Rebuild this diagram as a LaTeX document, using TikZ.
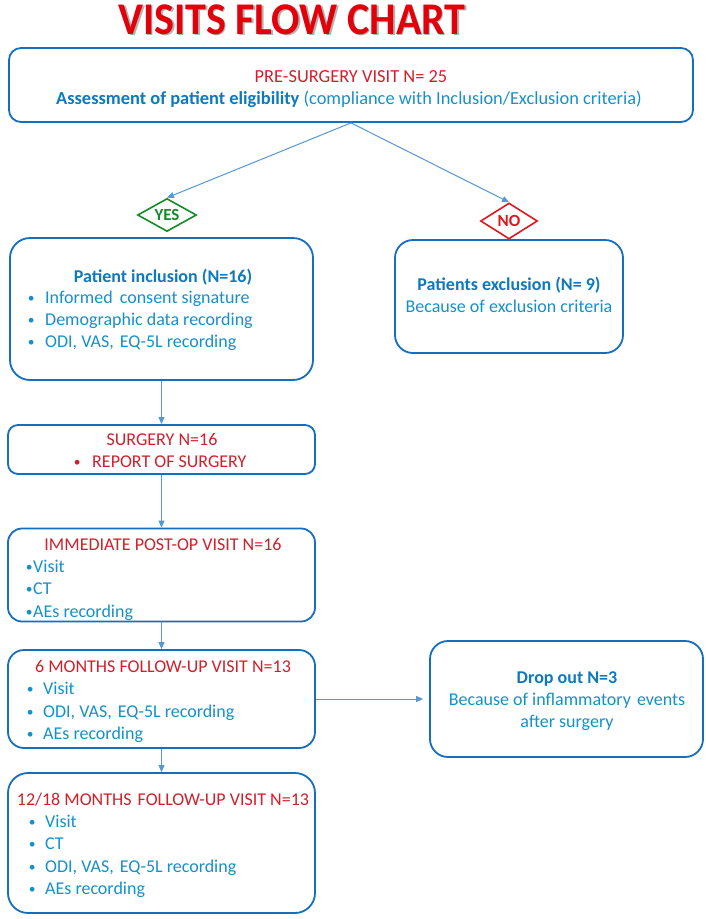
\documentclass[tikz,border=0pt]{standalone}
\usepackage{fontspec}
\setmainfont{Carlito}
\usetikzlibrary{shapes.geometric,arrows.meta}
\definecolor{boxblue}{RGB}{22,110,190}
\definecolor{txtblue}{RGB}{22,145,200}
\definecolor{bldblue}{RGB}{12,122,188}
\definecolor{hdred}{RGB}{208,32,44}
\definecolor{ttlred}{RGB}{226,0,10}
\definecolor{arrblue}{RGB}{86,152,212}
\definecolor{yesgreen}{RGB}{20,140,40}
\definecolor{nored}{RGB}{220,24,32}
\newcommand{\myb}[2][13pt]{\makebox[0pt][c]{\raisebox{1pt}{\scalebox{0.75}{\textbullet}}}\hspace{#1}#2}
\begin{document}
\begin{tikzpicture}[x=1pt,y=-1pt,
  box/.style={draw=boxblue, line width=1.8pt, rectangle, inner sep=0pt},
  txt/.style={anchor=base, inner sep=0pt, font=\fontsize{18}{22}\selectfont, text=txtblue},
  ltxt/.style={txt, anchor=base west},
  bld/.style={txt, font=\fontsize{18}{22}\selectfont\bfseries, text=bldblue},
  hd/.style={txt, text=hdred},
  arr/.style={draw=arrblue, line width=1pt, -{Triangle[length=7pt,width=6pt]}},
  dia/.style={diamond, aspect=1.8, line width=1.6pt, inner sep=0pt, font=\fontsize{17}{17}\selectfont\bfseries},
  ttl/.style={anchor=base, inner sep=0pt, font=\fontsize{42}{44}\selectfont\bfseries}
]
\useasboundingbox (0,0) rectangle (706,919);
\fill[white] (0,0) rectangle (706,919);

% title
\node[ttl, text=black!30] (titleshadow) at (293.5,35.5) {\scalebox{1}[1.08]{VISITS FLOW CHART}};
\node[ttl, text=ttlred] (title) at (292,34) {\scalebox{1}[1.08]{VISITS FLOW CHART}};

% boxes
\node[box, rounded corners=12pt, minimum width=684pt, minimum height=74pt] (top) at (351,85) {};
\node[box, rounded corners=20pt, minimum width=303pt, minimum height=142pt] (incl) at (161.5,309) {};
\node[box, rounded corners=18pt, minimum width=228pt, minimum height=113pt] (excl) at (509,296.5) {};
\node[box, rounded corners=10pt, minimum width=307pt, minimum height=49pt] (surg) at (161.5,449.5) {};
\node[box, rounded corners=14pt, minimum width=307pt, minimum height=93pt] (imm) at (161.5,575) {};
\node[box, rounded corners=16pt, minimum width=307pt, minimum height=98pt] (six) at (161.5,699) {};
\node[box, rounded corners=20pt, minimum width=307pt, minimum height=140pt] (twelve) at (161.5,843) {};
\node[box, rounded corners=18pt, minimum width=273pt, minimum height=116pt] (drop) at (566.5,699) {};

% diamonds
\node[dia, draw=yesgreen, text=yesgreen, minimum width=59pt, minimum height=33pt] (yes) at (167,215) {YES};
\node[dia, draw=nored, text=nored, minimum width=57pt, minimum height=36pt] (no) at (509,221) {NO};

% top box text
\node[hd, font=\fontsize{18.4}{22}\selectfont] (t1) at (351,82) {PRE-SURGERY VISIT N= 25};
\node[txt, font=\fontsize{18.4}{22}\selectfont] (t2) at (349,104) {\textcolor{bldblue}{\bfseries Assessment of patient eligibility} (compliance with Inclusion/Exclusion criteria)};

% inclusion
\node[bld] (i0) at (163,282) {Patient inclusion (N=16)};
\node[ltxt] (i1) at (31,303) {\myb[14pt]{Informed\hspace{3pt} consent signature}};
\node[ltxt] (i2) at (31,325) {\myb[14pt]{Demographic data recording}};
\node[ltxt] (i3) at (31,347) {\myb[14pt]{ODI, VAS,\hspace{2pt} EQ-5L recording}};

% exclusion
\node[bld] (e0) at (509,290) {Patients exclusion (N= 9)};
\node[txt] (e1) at (509,312) {Because of exclusion criteria};

% surgery
\node[hd] (s0) at (162,445) {SURGERY N=16};
\node[hd, anchor=base west] (s1) at (77,467) {\myb[15pt]{REPORT OF SURGERY}};

% immediate
\node[hd] (m0) at (163,550) {IMMEDIATE POST-OP VISIT N=16};
\node[ltxt] (m1) at (29,572) {\myb[4pt]{Visit}};
\node[ltxt] (m2) at (29,594) {\myb[4pt]{CT}};
\node[ltxt] (m3) at (29,617) {\myb[4pt]{AEs recording}};

% six months
\node[hd] (x0) at (163,672) {6 MONTHS FOLLOW-UP VISIT N=13};
\node[ltxt] (x1) at (30,694) {\myb{Visit}};
\node[ltxt] (x2) at (30,717) {\myb{ODI, VAS,\hspace{2pt} EQ-5L recording}};
\node[ltxt] (x3) at (30,739) {\myb{AEs recording}};

% twelve months
\node[hd] (w0) at (163,805) {12/18 MONTHS\hspace{2pt} FOLLOW-UP VISIT N=13};
\node[ltxt] (w1) at (32,827) {\myb{Visit}};
\node[ltxt] (w2) at (32,849) {\myb{CT}};
\node[ltxt] (w3) at (32,872) {\myb{ODI, VAS,\hspace{2pt} EQ-5L recording}};
\node[ltxt] (w4) at (32,894) {\myb{AEs recording}};

% drop out
\node[bld] (d0) at (567,683) {Drop out N=3};
\node[txt] (d1) at (567,705) {Because of inflammatory\hspace{2pt} events};
\node[txt] (d2) at (567,727) {after surgery};

% connectors
\draw[arr] (top.south) -- (yes.north);
\draw[arr] (top.south) -- (no.north);
\draw[arr] (incl.south) -- (surg.north);
\draw[arr] (surg.south) -- (imm.north);
\draw[arr] (imm.south) -- (six.north);
\draw[arr] (six.south) -- (twelve.north);
\draw[arr, shorten >=6pt] (six.east) -- (drop.west);
\end{tikzpicture}
\end{document}
